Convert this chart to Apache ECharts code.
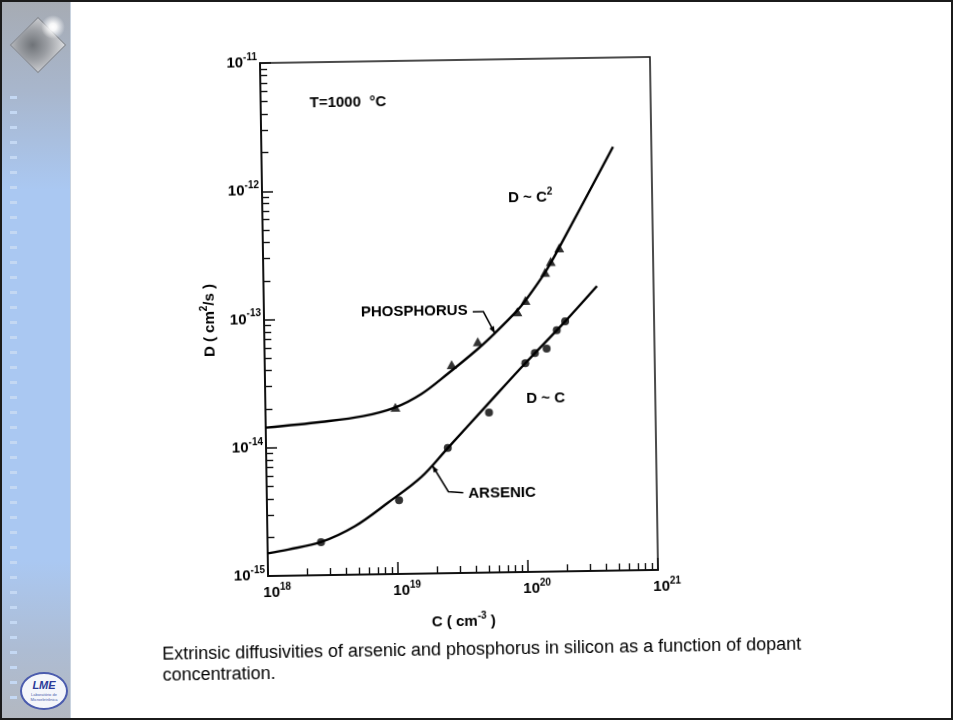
<!DOCTYPE html>
<html>
<head>
<meta charset="utf-8">
<script src="https://cdn.jsdelivr.net/npm/echarts@6/dist/echarts.min.js"></script>
<style>
  html, body { margin: 0; padding: 0; background: #fff; }
  #page { position: relative; width: 953px; height: 720px; overflow: hidden; background: #fff; }
  #side {
    position: absolute; left: 0; top: 0; width: 70px; height: 720px;
    background: linear-gradient(#a6abb3 0px, #a8b6cc 90px, #aac8f2 190px, #aac8f2 560px, #adbcd3 650px, #b3b8c0 720px);
    border-right: 1px solid #c9d3df;
  }
  .dash { position: absolute; left: 10px; width: 7px; height: 3px; background: #c4d8f3; }
  #diamond {
    position: absolute; left: 18px; top: 25px; width: 38px; height: 38px;
    transform: rotate(45deg);
    background: radial-gradient(circle at 40% 60%, #6f7378 0%, #9a9da2 45%, #dcdde0 100%);
    border: 1px solid #8d9096;
  }
  #spark {
    position: absolute; left: 39px; top: 13px; width: 28px; height: 28px;
    background: radial-gradient(circle, #ffffff 0%, rgba(255,255,255,0.9) 18%, rgba(255,255,255,0) 60%);
  }
  #logo {
    position: absolute; left: 20px; top: 672px; width: 44px; height: 34px;
    border-radius: 50%; border: 2px solid #4b5cae; background: #f4f6fb;
    text-align: center; font-family: "Liberation Sans", Arial, sans-serif;
  }
  #logo .t { font-style: italic; font-weight: bold; font-size: 11px; color: #2b3b98; line-height: 13px; padding-top: 5px; }
  #logo .s { font-size: 4px; color: #4b5cae; line-height: 5px; }
  #chart {
    position: absolute; left: 0; top: 0; width: 953px; height: 720px;
    transform: rotate(-0.9deg); transform-origin: 458.5px 316.75px;
  }
  #frame {
    position: absolute; left: 0; top: 0; width: 953px; height: 720px;
    box-sizing: border-box; border: 2px solid #1b1b1b; pointer-events: none;
  }
</style>
</head>
<body>
<div id="page">
  <div id="side">
    <div id="diamond"></div>
    <div id="spark"></div>
    <div id="logo"><div class="t">LME</div><div class="s">Laboratório de Microeletrônica</div></div>
  </div>
  <div id="chart"></div>
  <div id="frame"></div>
</div>
<script>
// Axis decades (exponents of ten) and minor-tick multipliers
const xDecades = [18, 19, 20, 21];
const yDecades = [-15, -14, -13, -12, -11];
const minorMultipliers = [2, 3, 4, 5, 6, 7, 8, 9];

// Phosphorus: fitted curve and measured points (C in cm^-3, D in cm^2/s)
const phosCurveC = [1.0e18, 2.69e18, 5.62e18, 1.0e19, 1.585e19, 2.512e19, 4.375e19, 5.93e19, 8.89e19, 1.033e20, 1.469e20, 1.897e20, 5.07e20];
const phosCurveD = [1.435e-14, 1.567e-14, 1.718e-14, 1.995e-14, 2.512e-14, 3.548e-14, 5.559e-14, 7.328e-14, 1.096e-13, 1.312e-13, 2.153e-13, 3.334e-13, 2.014e-12];
const phosPointC = [1.0e19, 2.74e19, 4.38e19, 8.89e19, 1.03e20, 1.47e20, 1.63e20, 1.90e20];
const phosPointD = [2.0e-14, 4.22e-14, 6.32e-14, 1.07e-13, 1.31e-13, 2.15e-13, 2.61e-13, 3.33e-13];

// Arsenic: fitted curve and measured points
const arsCurveC = [1.0e18, 1.44e18, 2.57e18, 4.73e18, 8.55e18, 1.56e19, 2.5e19, 5.01e19, 1.01e20, 2.07e20, 3.67e20];
const arsCurveD = [1.5e-15, 1.6e-15, 1.81e-15, 2.39e-15, 3.61e-15, 5.69e-15, 9.46e-15, 2.0e-14, 4.24e-14, 8.89e-14, 1.66e-13];
const arsPointC = [2.58e18, 1.04e19, 2.5e19, 5.24e19, 1.01e20, 1.2e20, 1.48e20, 1.78e20, 2.07e20];
const arsPointD = [1.81e-15, 3.76e-15, 9.46e-15, 1.77e-14, 4.24e-14, 5.08e-14, 5.47e-14, 7.59e-14, 8.89e-14];

// Side-bar dashes
(function () {
  const side = document.getElementById('side');
  for (let y = 96; y < 700; y += 15) {
    const d = document.createElement('div');
    d.className = 'dash';
    d.style.top = y + 'px';
    side.appendChild(d);
  }
})();

const lg = Math.log10;
const toLog = (cs, ds) => cs.map((c, i) => [lg(c), lg(ds[i])]);
const minorTicks = (decades) => {
  const out = [];
  for (let i = 0; i < decades.length - 1; i++) {
    minorMultipliers.forEach(m => out.push(decades[i] + lg(m)));
  }
  return out;
};

const FONT = '"Liberation Sans", Arial, Helvetica, sans-serif';
const INK = '#000';
const richPow = {
  b: { fontSize: 15, fontWeight: 'bold', fontFamily: FONT, color: INK, lineHeight: 22 },
  s: { fontSize: 10, fontWeight: 'bold', fontFamily: FONT, color: INK, lineHeight: 12, verticalAlign: 'top' },
  t: { fontSize: 15, fontWeight: 'bold', fontFamily: FONT, color: INK, lineHeight: 22 }
};
const powLabel = v => '{b|10}{s|' + v + '}';

// arrow head polygon for a leader line ending at its last point
function arrowHead(pts, len, half) {
  const a = pts[pts.length - 2], b = pts[pts.length - 1];
  const dx = b[0] - a[0], dy = b[1] - a[1];
  const l = Math.hypot(dx, dy), ux = dx / l, uy = dy / l;
  const bx = b[0] - ux * len, by = b[1] - uy * len;
  return [[b[0], b[1]], [bx - uy * half, by + ux * half], [bx + uy * half, by - ux * half]];
}

const phosLeader = [[472.8, 311.9], [483.4, 312.1], [494.7, 333.9]];
const arsLeader = [[460.5, 492.8], [445.6, 491.5], [430.0, 465.0]];

function label(x, y, text, rich, font) {
  return {
    type: 'text', x: x, y: y, silent: true,
    style: { text: text, font: font || ('bold 15px ' + FONT), fill: INK, verticalAlign: 'middle', rich: rich }
  };
}

const chart = echarts.init(document.getElementById('chart'), null, { renderer: 'canvas' });
chart.setOption({
  animation: false,
  backgroundColor: 'transparent',
  grid: { left: 264, top: 60, width: 390, height: 513, show: true, borderColor: '#111', borderWidth: 1.5, containLabel: false },
  xAxis: [
    {
      type: 'value', min: 18, max: 21, interval: 1, position: 'bottom',
      axisLine: { show: true, onZero: false, lineStyle: { color: '#111', width: 2 } },
      axisTick: { show: true, inside: true, length: 12, lineStyle: { color: '#111', width: 1.5 } },
      splitLine: { show: false },
      axisLabel: { formatter: powLabel, margin: 6, padding: [0, 0, 0, 18], rich: richPow },
      name: '{t|C ( cm}{s|-3}{t| )}', nameLocation: 'middle', nameGap: 38,
      nameTextStyle: { rich: richPow }
    },
    {
      type: 'value', min: 18, max: 21, position: 'bottom',
      axisLine: { show: false }, axisLabel: { show: false }, splitLine: { show: false },
      axisTick: { show: true, inside: true, length: 7, customValues: minorTicks(xDecades), lineStyle: { color: '#111', width: 1.4 } }
    }
  ],
  yAxis: [
    {
      type: 'value', min: -15, max: -11, interval: 1, position: 'left',
      axisLine: { show: true, onZero: false, lineStyle: { color: '#111', width: 2 } },
      axisTick: { show: true, inside: true, length: 11, lineStyle: { color: '#111', width: 1.5 } },
      splitLine: { show: false },
      axisLabel: { formatter: powLabel, margin: 3, rich: richPow },
      name: '{t|D ( cm}{s|2}{t|/s )}', nameLocation: 'middle', nameGap: 43, nameRotate: 90,
      nameTextStyle: { rich: richPow }
    },
    {
      type: 'value', min: -15, max: -11, position: 'left',
      axisLine: { show: false }, axisLabel: { show: false }, splitLine: { show: false },
      axisTick: { show: true, inside: true, length: 7, customValues: minorTicks(yDecades), lineStyle: { color: '#111', width: 1.4 } }
    }
  ],
  series: [
    {
      name: 'PHOSPHORUS', type: 'line', data: toLog(phosCurveC, phosCurveD), smooth: 0.35,
      showSymbol: false, lineStyle: { color: '#000', width: 2.4 }, z: 3
    },
    {
      name: 'ARSENIC', type: 'line', data: toLog(arsCurveC, arsCurveD), smooth: 0.35,
      showSymbol: false, lineStyle: { color: '#000', width: 2.4 }, z: 3
    },
    {
      name: 'PHOSPHORUS data', type: 'scatter', data: toLog(phosPointC, phosPointD),
      symbol: 'triangle', symbolSize: [10, 9], itemStyle: { color: '#000' }, z: 4
    },
    {
      name: 'ARSENIC data', type: 'scatter', data: toLog(arsPointC, arsPointD),
      symbol: 'circle', symbolSize: 8, itemStyle: { color: '#000' }, z: 4
    }
  ],
  graphic: [
    label(313, 101, 'T=1000  °C'),
    label(510, 199, '{t|D ~ C}{s|2}', richPow),
    label(361, 311, 'PHOSPHORUS'),
    label(525, 400, 'D ~ C'),
    label(465.5, 494, 'ARSENIC'),
    { type: 'polyline', silent: true, shape: { points: phosLeader }, style: { stroke: '#000', lineWidth: 1.5, fill: null } },
    { type: 'polygon', silent: true, shape: { points: arrowHead(phosLeader, 7, 2.6) }, style: { fill: '#000' } },
    { type: 'polyline', silent: true, shape: { points: arsLeader }, style: { stroke: '#000', lineWidth: 1.5, fill: null } },
    { type: 'polygon', silent: true, shape: { points: arrowHead(arsLeader, 7, 2.6) }, style: { fill: '#000' } },
    label(157, 650.5, 'Extrinsic diffusivities of arsenic and phosphorus in silicon as a function of dopant', null, '18px ' + FONT),
    label(157, 671, 'concentration.', null, '18px ' + FONT)
  ]
});
</script>
</body>
</html>
